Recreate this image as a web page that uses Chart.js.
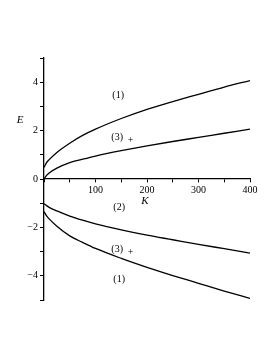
<!DOCTYPE html>
<html>
<head>
<meta charset="utf-8">
<script src="https://cdn.jsdelivr.net/npm/chart.js@4/dist/chart.umd.min.js"></script>
<style>
  html, body { margin: 0; padding: 0; background: #fff; }
  #wrap { width: 277px; height: 358px; }
</style>
</head>
<body>
<div id="wrap"><canvas id="energyChart" width="277" height="358"></canvas></div>
<script>
// K values where the curves were read
const kValues = [0, 5, 10, 25, 50, 75, 100, 150, 200, 250, 300, 350, 400];

// Branches of E(K)
const upper1 = [0.48, 0.68, 0.8, 1.1, 1.48, 1.8, 2.06, 2.5, 2.88, 3.2, 3.5, 3.8, 4.07];
const upper3 = [0, 0.15, 0.25, 0.45, 0.68, 0.82, 0.95, 1.17, 1.37, 1.55, 1.72, 1.89, 2.06];
const lower2 = [-1.02, -1.1, -1.17, -1.32, -1.53, -1.7, -1.85, -2.1, -2.32, -2.51, -2.7, -2.88, -3.06];
const lower1 = [-1.35, -1.52, -1.65, -1.95, -2.35, -2.62, -2.87, -3.28, -3.65, -3.99, -4.31, -4.63, -4.93];

// Tick labels
const xTickLabels = [100, 200, 300, 400];
const yTickLabels = [-4, -2, 0, 2, 4];

// Curve labels (data coordinates)
const curveLabels = [
    { k: 144, e: 3.46, text: '(1)' },
    { k: 142, e: 1.73, text: '(3)' },
    { k: 168, e: 1.6, text: '+' },
    { k: 146, e: -1.18, text: '(2)' },
    { k: 142, e: -2.9, text: '(3)' },
    { k: 168, e: -3.02, text: '+' },
    { k: 146, e: -4.13, text: '(1)' }
];

const serif = '"Liberation Serif", "DejaVu Serif", serif';

function series(values) {
    return {
        data: kValues.map((k, i) => ({ x: k, y: values[i] })),
        borderColor: '#000',
        borderWidth: 1.3,
        pointRadius: 0,
        cubicInterpolationMode: 'monotone',
        fill: false
    };
}

// Draws curve labels and the axis names E and K
const labelPlugin = {
    id: 'labels',
    afterDraw(chart) {
        const ctx = chart.ctx;
        const xs = chart.scales.x;
        const ys = chart.scales.y;
        ctx.save();
        ctx.fillStyle = '#000';
        ctx.textAlign = 'center';
        ctx.textBaseline = 'middle';
        ctx.font = '10px ' + serif;
        curveLabels.forEach(l => {
            ctx.fillText(l.text, xs.getPixelForValue(l.k), ys.getPixelForValue(l.e));
        });
        ctx.font = 'italic 11px ' + serif;
        ctx.fillText('E', chart.chartArea.left - 24, ys.getPixelForValue(2.43));
        ctx.fillText('K', xs.getPixelForValue(196), ys.getPixelForValue(-0.9));
        ctx.restore();
    }
};

const ctx = document.getElementById('energyChart').getContext('2d');
new Chart(ctx, {
    type: 'line',
    data: {
        datasets: [series(upper1), series(upper3), series(lower2), series(lower1)]
    },
    options: {
        responsive: false,
        animation: false,
        layout: { padding: { left: 14, right: 27, top: 58, bottom: 58 } },
        plugins: {
            legend: { display: false },
            tooltip: { enabled: false }
        },
        scales: {
            x: {
                type: 'linear',
                position: { y: 0 },
                min: 0,
                max: 400,
                border: { color: '#000', width: 1.3 },
                grid: { drawOnChartArea: false, drawTicks: true, tickLength: 3, color: '#000' },
                ticks: {
                    stepSize: 50,
                    autoSkip: false,
                    maxRotation: 0,
                    padding: 2,
                    color: '#000',
                    font: { family: serif, size: 10 },
                    callback: v => xTickLabels.includes(v) ? String(v) : ''
                }
            },
            y: {
                type: 'linear',
                position: 'left',
                min: -5,
                max: 5,
                afterFit: scale => { scale.width = 30; },
                border: { color: '#000', width: 1.3 },
                grid: { drawOnChartArea: false, drawTicks: true, tickLength: 4, color: '#000' },
                ticks: {
                    stepSize: 1,
                    autoSkip: false,
                    padding: 2,
                    color: '#000',
                    font: { family: serif, size: 10 },
                    callback: v => yTickLabels.includes(v) ? String(v).replace('-', '\u2212') : ''
                }
            }
        }
    },
    plugins: [labelPlugin]
});
</script>
</body>
</html>
